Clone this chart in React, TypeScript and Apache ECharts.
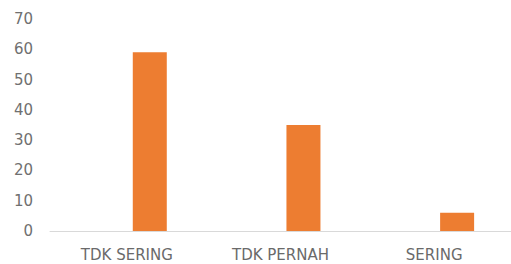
import React, { useEffect, useRef } from "react";
import * as echarts from "echarts";

const categories = ["TDK SERING", "TDK PERNAH", "SERING"];
const emptySeries: (number | null)[] = [null, null, null];
const values = [59, 35, 6];
const yTicks = { min: 0, max: 70, interval: 10 };

export default function App() {
  const ref = useRef<HTMLDivElement>(null);
  useEffect(() => {
    if (!ref.current) return;
    const chart = echarts.init(ref.current, undefined, { renderer: "svg" });
    chart.setOption({
      animation: false,
      backgroundColor: "#ffffff",
      grid: { left: 50, right: -4, top: 19, bottom: 33, containLabel: false },
      xAxis: {
        type: "category",
        data: categories,
        axisLine: { show: true, lineStyle: { color: "#D9D9D9", width: 1 } },
        axisTick: { show: false },
        axisLabel: {
          color: "#6a6a6a",
          fontFamily: "DejaVu Sans",
          fontSize: 15,
          margin: 16,
        },
      },
      yAxis: {
        type: "value",
        min: yTicks.min,
        max: yTicks.max,
        interval: yTicks.interval,
        axisLine: { show: false },
        axisTick: { show: false },
        splitLine: { show: false },
        axisLabel: {
          color: "#707070",
          fontFamily: "DejaVu Sans",
          fontSize: 15,
          margin: 17,
        },
      },
      series: [
        {
          type: "bar",
          data: emptySeries,
          barWidth: 34,
          barGap: "35%",
          itemStyle: { color: "#4472C4" },
        },
        {
          type: "bar",
          data: values,
          barWidth: 34,
          barGap: "35%",
          itemStyle: { color: "#ED7D31" },
        },
      ],
    });
    return () => chart.dispose();
  }, []);
  return (
    <div
      ref={ref}
      style={{ position: "absolute", left: 0, top: 0, width: 511, height: 264 }}
    />
  );
}
